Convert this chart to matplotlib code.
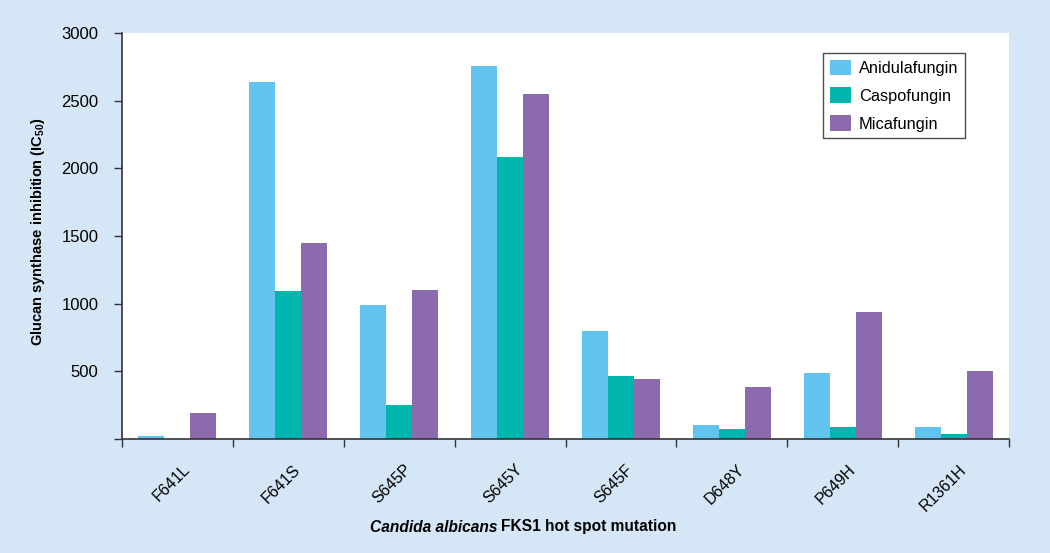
import matplotlib
matplotlib.use("Agg")
import matplotlib.pyplot as plt
import numpy as np
from matplotlib.transforms import ScaledTranslation
from matplotlib.patches import Patch

plt.rcParams['font.family'] = ['Liberation Sans', 'DejaVu Sans']
plt.rcParams['mathtext.fontset'] = 'custom'
plt.rcParams['mathtext.rm'] = 'Liberation Sans'
plt.rcParams['mathtext.bf'] = 'Liberation Sans:bold'

categories = ['F641L', 'F641S', 'S645P', 'S645Y', 'S645F', 'D648Y', 'P649H', 'R1361H']
anidulafungin = [25, 2635, 990, 2755, 795, 100, 485, 85]
caspofungin = [0, 1095, 250, 2085, 465, 75, 90, 40]
micafungin = [190, 1450, 1100, 2550, 445, 385, 935, 505]
series_names = ['Anidulafungin', 'Caspofungin', 'Micafungin']
colors = ['#62C3EE', '#00B5AD', '#8B6AAE']
yticks = [0, 500, 1000, 1500, 2000, 2500, 3000]

bg = '#D5E6F6'
fig = plt.figure(figsize=(10.5, 5.53), dpi=100, facecolor=bg)
ax = fig.add_axes([122/1050, 1 - 439/553, (1009 - 122)/1050, (439 - 33)/553])
ax.set_facecolor('white')

x = np.arange(len(categories))
w = 26/111
for i, (vals, c) in enumerate(zip([anidulafungin, caspofungin, micafungin], colors)):
    ax.bar(x + (i - 1) * w, vals, width=w, color=c, edgecolor='none', zorder=2)

ax.set_xlim(-0.5, len(categories) - 0.5)
ax.set_ylim(0, 3000)
ax.set_yticks(yticks)
ax.set_yticklabels(['' if v == 0 else str(v) for v in yticks], fontsize=12)

ax.set_xticks(np.arange(len(categories) + 1) - 0.5)
ax.set_xticklabels([])
ax.set_xticks(x, minor=True)
ax.set_xticklabels(categories, minor=True, rotation=45, ha='right', va='center',
                   rotation_mode='anchor', fontsize=11.5)
ax.tick_params(axis='x', which='minor', length=0, pad=0)
offset = ScaledTranslation(10/100, -28/100, fig.dpi_scale_trans)
for lab in ax.get_xticklabels(minor=True):
    lab.set_transform(lab.get_transform() + offset)

ax.tick_params(axis='y', which='major', length=6, width=1, color='#333333', pad=11)
ax.tick_params(axis='x', which='major', length=6, width=1, color='#333333')

for s in ['top', 'right']:
    ax.spines[s].set_visible(False)
for s in ['left', 'bottom']:
    ax.spines[s].set_color('#333333')
    ax.spines[s].set_linewidth(1.2)

fig.text(38/1050, 1 - 232/553, r'Glucan synthase inhibition (IC$_{\mathbf{50}}$)',
         rotation=90, ha='center', va='center', fontsize=10.5, fontweight='bold')

fig.text(497/1050, 1 - 527/553, 'Candida albicans', ha='right', va='center',
         fontsize=11.2, fontweight='bold', fontstyle='italic')
fig.text(501/1050, 1 - 527/553, 'FKS1 hot spot mutation', ha='left', va='center',
         fontsize=11.2, fontweight='bold')

handles = [Patch(facecolor=c, edgecolor='none') for c in colors]
leg = fig.legend(handles, series_names, loc='upper left',
                 bbox_to_anchor=(823/1050, 1 - 53/553), bbox_transform=fig.transFigure,
                 borderaxespad=0, fontsize=11.8, frameon=True, fancybox=False,
                 handlelength=1.3, handleheight=1.1, handletextpad=0.5,
                 labelspacing=0.7, borderpad=0.4)
leg.get_frame().set_edgecolor('#222222')
leg.get_frame().set_linewidth(1)

fig.savefig('out.png', dpi=100, facecolor=bg)
